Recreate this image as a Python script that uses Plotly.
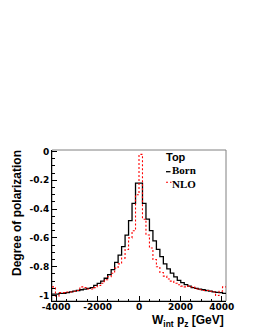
import plotly.graph_objects as go

# ---- data -------------------------------------------------------------
x_low, x_high, n_bins = -4200.0, 4200.0, 50

# Born (black), bins from left to right
born_left = [-0.99, -0.99, -0.985, -0.985, -0.98, -0.975, -0.97, -0.965, -0.96, -0.955,
             -0.95, -0.945, -0.93, -0.915, -0.90, -0.88, -0.855, -0.82, -0.77, -0.72,
             -0.66, -0.58, -0.48, -0.36, -0.22]
born_right = [-0.22, -0.36, -0.47, -0.55, -0.62, -0.68, -0.73, -0.78, -0.815, -0.845,
              -0.87, -0.895, -0.91, -0.925, -0.935, -0.945, -0.95, -0.955, -0.96, -0.965,
              -0.97, -0.975, -0.978, -0.98, -0.985]
# NLO (red dotted)
nlo_left = [-0.94, -1.005, -0.98, -0.98, -0.975, -0.975, -0.97, -0.965, -0.94, -0.945,
            -0.955, -0.955, -0.945, -0.93, -0.915, -0.89, -0.87, -0.845, -0.81, -0.78,
            -0.74, -0.68, -0.60, -0.55, -0.30]
nlo_right = [-0.02, -0.47, -0.58, -0.67, -0.75, -0.80, -0.84, -0.865, -0.885, -0.90,
             -0.915, -0.925, -0.935, -0.94, -0.935, -0.94, -0.955, -0.96, -0.965, -0.965,
             -0.97, -0.975, -1.0, -0.97, -0.94]

born = born_left + born_right
nlo = nlo_left + nlo_right

x_ticks = [-4000, -2000, 0, 2000, 4000]
y_ticks = [0, -0.2, -0.4, -0.6, -0.8, -1]
legend_title = "Top"
series_names = ["Born", "NLO"]

# ---- build ------------------------------------------------------------
width = (x_high - x_low) / n_bins
edges = [x_low + i * width for i in range(n_bins + 1)]


def steps(vals):
    return edges, list(vals) + [vals[-1]]


fig = go.Figure()
bx, by = steps(born)
fig.add_trace(go.Scatter(x=bx, y=by, mode="lines", line_shape="hv",
                         line=dict(color="black", width=1.3), name=series_names[0],
                         showlegend=False))
nx, ny = steps(nlo)
fig.add_trace(go.Scatter(x=nx, y=ny, mode="lines", line_shape="hv",
                         line=dict(color="#ff0000", width=1.1, dash="2px,2px"),
                         name=series_names[1], showlegend=False))

# page body has an 8px margin: figure origin is at page (8, 8)
OFF = 8
W, H = 255 - OFF, 330 - OFF
# plot frame in page pixels
PL, PR, PT, PB = 52, 226, 150, 301
L, R, T, B = PL - OFF, PR - OFF, PT - OFF, PB - OFF


def px(xp):  # page x -> paper
    return (xp - PL) / (PR - PL)


def py(yp):  # page y -> paper
    return (PB - yp) / (PB - PT)


tickfont = dict(family="DejaVu Sans", size=9, color="black", weight="bold")

fig.update_layout(
    width=W, height=H,
    margin=dict(l=L, r=W - R, t=T, b=H - B, pad=0),
    paper_bgcolor="white", plot_bgcolor="white",
    showlegend=False,
    xaxis=dict(range=[x_low, x_high], tickvals=x_ticks,
               ticktext=[str(v) for v in x_ticks],
               ticks="inside", ticklen=5, tickcolor="black", tickwidth=1,
               minor=dict(ticks="inside", ticklen=2.5, dtick=500, tick0=0,
                          tickcolor="black"),
               showgrid=False, zeroline=False,
               showline=True, linecolor="black", linewidth=1,
               ticklabelstandoff=-3,
               tickfont=tickfont),
    yaxis=dict(range=[-1.038, 0.0104], tickvals=y_ticks,
               ticktext=["0", "-0.2", "-0.4", "-0.6", "-0.8", "-1"],
               ticks="inside", ticklen=5, tickcolor="black", tickwidth=1,
               minor=dict(ticks="inside", ticklen=2.5, dtick=0.05, tick0=0,
                          tickcolor="black"),
               showgrid=False, zeroline=False,
               showline=True, linecolor="black", linewidth=1,
               tickfont=tickfont),
)

# frame (top/right)
fig.add_shape(type="rect", xref="paper", yref="paper", x0=0, x1=1, y0=0, y1=1,
              line=dict(color="#808080", width=1), layer="below")

title_font = dict(family="Liberation Sans", size=12, color="black", weight="bold")
fig.add_annotation(text="Degree of polarization", textangle=-90,
                   xref="paper", yref="paper", x=px(17), y=py(148),
                   xanchor="center", yanchor="top", showarrow=False,
                   font=title_font)
fig.add_annotation(text="W<sub>int</sub> p<sub>z</sub> [GeV]",
                   xref="paper", yref="paper", x=px(226.5), y=py(321),
                   xanchor="right", yanchor="middle", showarrow=False,
                   font=title_font)

# legend
fig.add_annotation(text=legend_title, xref="paper", yref="paper",
                   x=px(165), y=py(164.3), xanchor="left", yanchor="bottom",
                   showarrow=False, borderpad=0,
                   font=dict(family="Liberation Sans", size=11, color="black",
                             weight="bold"))
leg_font = dict(family="Liberation Serif", size=11, color="black", weight="bold")
fig.add_shape(type="line", xref="paper", yref="paper", x0=px(166), x1=px(170.5),
              y0=py(171.7), y1=py(171.7), line=dict(color="black", width=1.3))
fig.add_annotation(text=series_names[0], xref="paper", yref="paper",
                   x=px(170.5), y=py(177.2), xanchor="left", yanchor="bottom",
                   showarrow=False, font=leg_font, borderpad=0)
fig.add_shape(type="line", xref="paper", yref="paper", x0=px(166), x1=px(171.5),
              y0=py(182.3), y1=py(182.3),
              line=dict(color="#ff0000", width=1.1, dash="2px,2px"))
fig.add_annotation(text=series_names[1], xref="paper", yref="paper",
                   x=px(171), y=py(177.2), xanchor="left", yanchor="top",
                   showarrow=False, font=leg_font, borderpad=0)

fig.write_html("out.html")
